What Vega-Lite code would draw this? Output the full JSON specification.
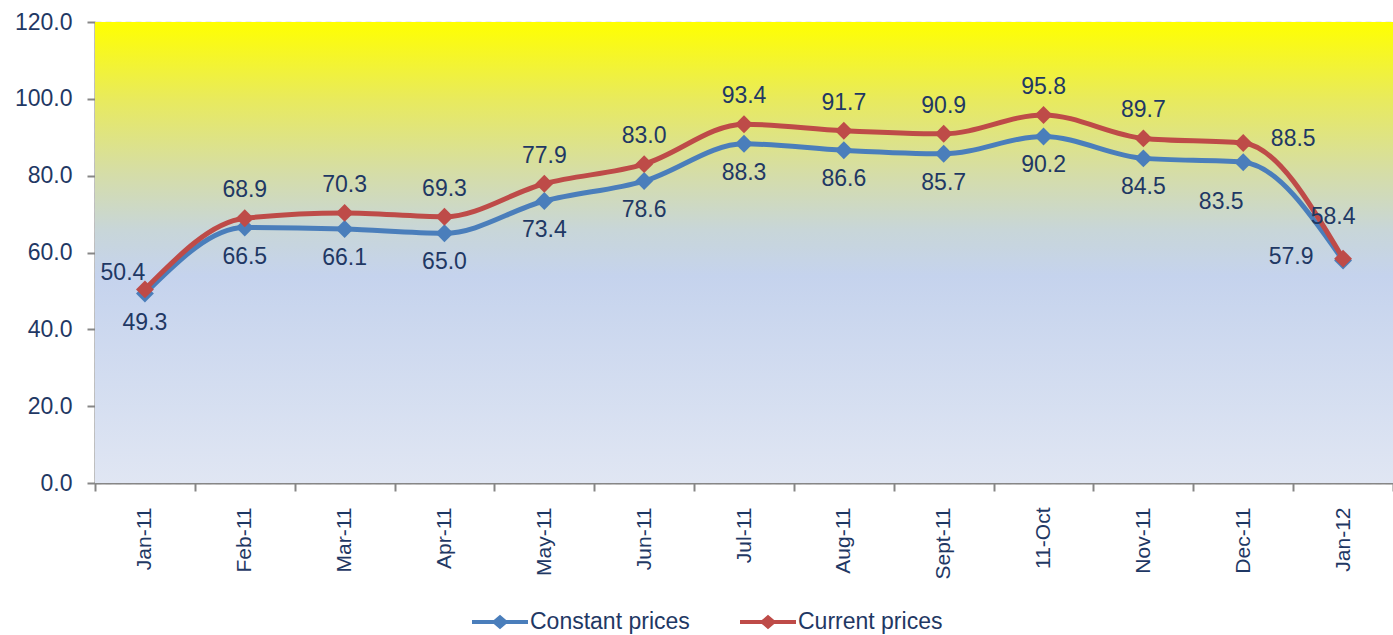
{
  "$schema": "https://vega.github.io/schema/vega-lite/v6.json",
  "width": 1298,
  "height": 461,
  "padding": {"left": 95, "top": 22, "right": 0, "bottom": 152},
  "autosize": {"type": "none"},
  "background": "white",
  "config": {
    "view": {"stroke": null},
    "font": "Liberation Sans"
  },
  "data": {
    "values": [
      {"month": "Jan-11", "series": "Constant prices", "value": 49.3},
      {"month": "Feb-11", "series": "Constant prices", "value": 66.5},
      {"month": "Mar-11", "series": "Constant prices", "value": 66.1},
      {"month": "Apr-11", "series": "Constant prices", "value": 65.0},
      {"month": "May-11", "series": "Constant prices", "value": 73.4},
      {"month": "Jun-11", "series": "Constant prices", "value": 78.6},
      {"month": "Jul-11", "series": "Constant prices", "value": 88.3},
      {"month": "Aug-11", "series": "Constant prices", "value": 86.6},
      {"month": "Sept-11", "series": "Constant prices", "value": 85.7},
      {"month": "11-Oct", "series": "Constant prices", "value": 90.2},
      {"month": "Nov-11", "series": "Constant prices", "value": 84.5},
      {"month": "Dec-11", "series": "Constant prices", "value": 83.5},
      {"month": "Jan-12", "series": "Constant prices", "value": 57.9},
      {"month": "Jan-11", "series": "Current prices", "value": 50.4},
      {"month": "Feb-11", "series": "Current prices", "value": 68.9},
      {"month": "Mar-11", "series": "Current prices", "value": 70.3},
      {"month": "Apr-11", "series": "Current prices", "value": 69.3},
      {"month": "May-11", "series": "Current prices", "value": 77.9},
      {"month": "Jun-11", "series": "Current prices", "value": 83.0},
      {"month": "Jul-11", "series": "Current prices", "value": 93.4},
      {"month": "Aug-11", "series": "Current prices", "value": 91.7},
      {"month": "Sept-11", "series": "Current prices", "value": 90.9},
      {"month": "11-Oct", "series": "Current prices", "value": 95.8},
      {"month": "Nov-11", "series": "Current prices", "value": 89.7},
      {"month": "Dec-11", "series": "Current prices", "value": 88.5},
      {"month": "Jan-12", "series": "Current prices", "value": 58.4}
    ]
  },
  "encoding": {
    "x": {
      "field": "month", "type": "nominal", "sort": null,
      "scale": {"paddingInner": 0, "paddingOuter": 0},
      "axis": {
        "title": null, "labelAngle": -90, "labelFontSize": 21, "labelColor": "#1F3864",
        "labelPadding": 16, "tickBand": "extent", "tickSize": 8, "tickColor": "#868686", "tickWidth": 2,
        "domainColor": "#868686", "domainWidth": 2,
        "grid": true, "gridDash": [6, 4], "gridColor": "#C4C4C4", "gridWidth": 1.3,
        "labelAlign": "right", "labelBaseline": "middle"
      }
    },
    "y": {
      "field": "value", "type": "quantitative",
      "scale": {"domain": [0, 120], "nice": false},
      "axis": {
        "title": null, "values": [0, 20, 40, 60, 80, 100, 120], "format": ".1f",
        "labelFontSize": 23, "labelColor": "#1F3864", "labelPadding": 15,
        "tickSize": 8, "tickColor": "#868686", "tickWidth": 2,
        "domainColor": "#868686", "domainWidth": 2,
        "grid": true, "gridDash": [6, 4], "gridColor": "#C4C4C4", "gridWidth": 1.3
      }
    }
  },
  "layer": [
    {
      "mark": {
        "type": "rect",
        "fill": {
          "gradient": "linear", "x1": 0, "y1": 0, "x2": 0, "y2": 1,
          "stops": [
            {"offset": 0, "color": "#FFFF00"},
            {"offset": 0.17, "color": "#E8EA5E"},
            {"offset": 0.33, "color": "#D5DDA8"},
            {"offset": 0.45, "color": "#C8D6D8"},
            {"offset": 0.55, "color": "#C5D3ED"},
            {"offset": 1, "color": "#E0E6F3"}
          ]
        }
      },
      "encoding": {
        "x": null,
        "y": {"datum": 120, "type": "quantitative"},
        "y2": {"datum": 0}
      }
    },
    {
      "mark": {"type": "line", "interpolate": "monotone", "strokeWidth": 5},
      "encoding": {
        "color": {
          "field": "series", "type": "nominal",
          "scale": {"domain": ["Constant prices", "Current prices"], "range": ["#4A7EBB", "#BE4B48"]},
          "legend": {
            "title": null, "orient": "none", "direction": "horizontal",
            "legendX": 377, "legendY": 572,
            "symbolType": "M-1,-0.07 L-0.22,-0.07 L0,-0.26 L0.22,-0.07 L1,-0.07 L1,0.07 L0.22,0.07 L0,0.26 L-0.22,0.07 L-1,0.07 Z",
            "symbolSize": 3136, "symbolStrokeWidth": 0,
            "labelFontSize": 23, "labelColor": "#1F3864", "labelOffset": 2,
            "columnPadding": 50,
            "encode": {"symbols": {"update": {
              "shape": {"value": "M-1,-0.07 L-0.22,-0.07 L0,-0.26 L0.22,-0.07 L1,-0.07 L1,0.07 L0.22,0.07 L0,0.26 L-0.22,0.07 L-1,0.07 Z"},
              "size": {"value": 3136},
              "fill": {"scale": "color", "field": "value"}, "stroke": {"value": "transparent"}, "opacity": {"value": 1}}}}
          }
        }
      }
    },
    {
      "mark": {"type": "point", "shape": "diamond", "filled": true, "size": 320, "opacity": 1},
      "encoding": {
        "color": {"field": "series", "type": "nominal", "legend": null}
      }
    },
    {
      "transform": [{"filter": "datum.series == 'Current prices' && datum.month != 'Dec-11' && datum.month != 'Jan-12' && datum.month != 'Jan-11'"}],
      "mark": {"type": "text", "dy": -28, "fontSize": 23, "color": "#1F3864"},
      "encoding": {"text": {"field": "value", "format": ".1f"}}
    },
    {
      "transform": [{"filter": "datum.series == 'Current prices' && datum.month == 'Jan-11'"}],
      "mark": {"type": "text", "dx": -22, "dy": -16, "fontSize": 23, "color": "#1F3864"},
      "encoding": {"text": {"field": "value", "format": ".1f"}}
    },
    {
      "transform": [{"filter": "datum.series == 'Current prices' && datum.month == 'Dec-11'"}],
      "mark": {"type": "text", "dx": 50, "dy": -4, "fontSize": 23, "color": "#1F3864"},
      "encoding": {"text": {"field": "value", "format": ".1f"}}
    },
    {
      "transform": [{"filter": "datum.series == 'Current prices' && datum.month == 'Jan-12'"}],
      "mark": {"type": "text", "dx": -10, "dy": -42, "fontSize": 23, "color": "#1F3864"},
      "encoding": {"text": {"field": "value", "format": ".1f"}}
    },
    {
      "transform": [{"filter": "datum.series == 'Constant prices' && datum.month != 'Dec-11' && datum.month != 'Jan-12'"}],
      "mark": {"type": "text", "dy": 29, "fontSize": 23, "color": "#1F3864"},
      "encoding": {"text": {"field": "value", "format": ".1f"}}
    },
    {
      "transform": [{"filter": "datum.series == 'Constant prices' && datum.month == 'Dec-11'"}],
      "mark": {"type": "text", "dx": -22, "dy": 40, "fontSize": 23, "color": "#1F3864"},
      "encoding": {"text": {"field": "value", "format": ".1f"}}
    },
    {
      "transform": [{"filter": "datum.series == 'Constant prices' && datum.month == 'Jan-12'"}],
      "mark": {"type": "text", "dx": -52, "dy": -4, "fontSize": 23, "color": "#1F3864"},
      "encoding": {"text": {"field": "value", "format": ".1f"}}
    }
  ]
}
